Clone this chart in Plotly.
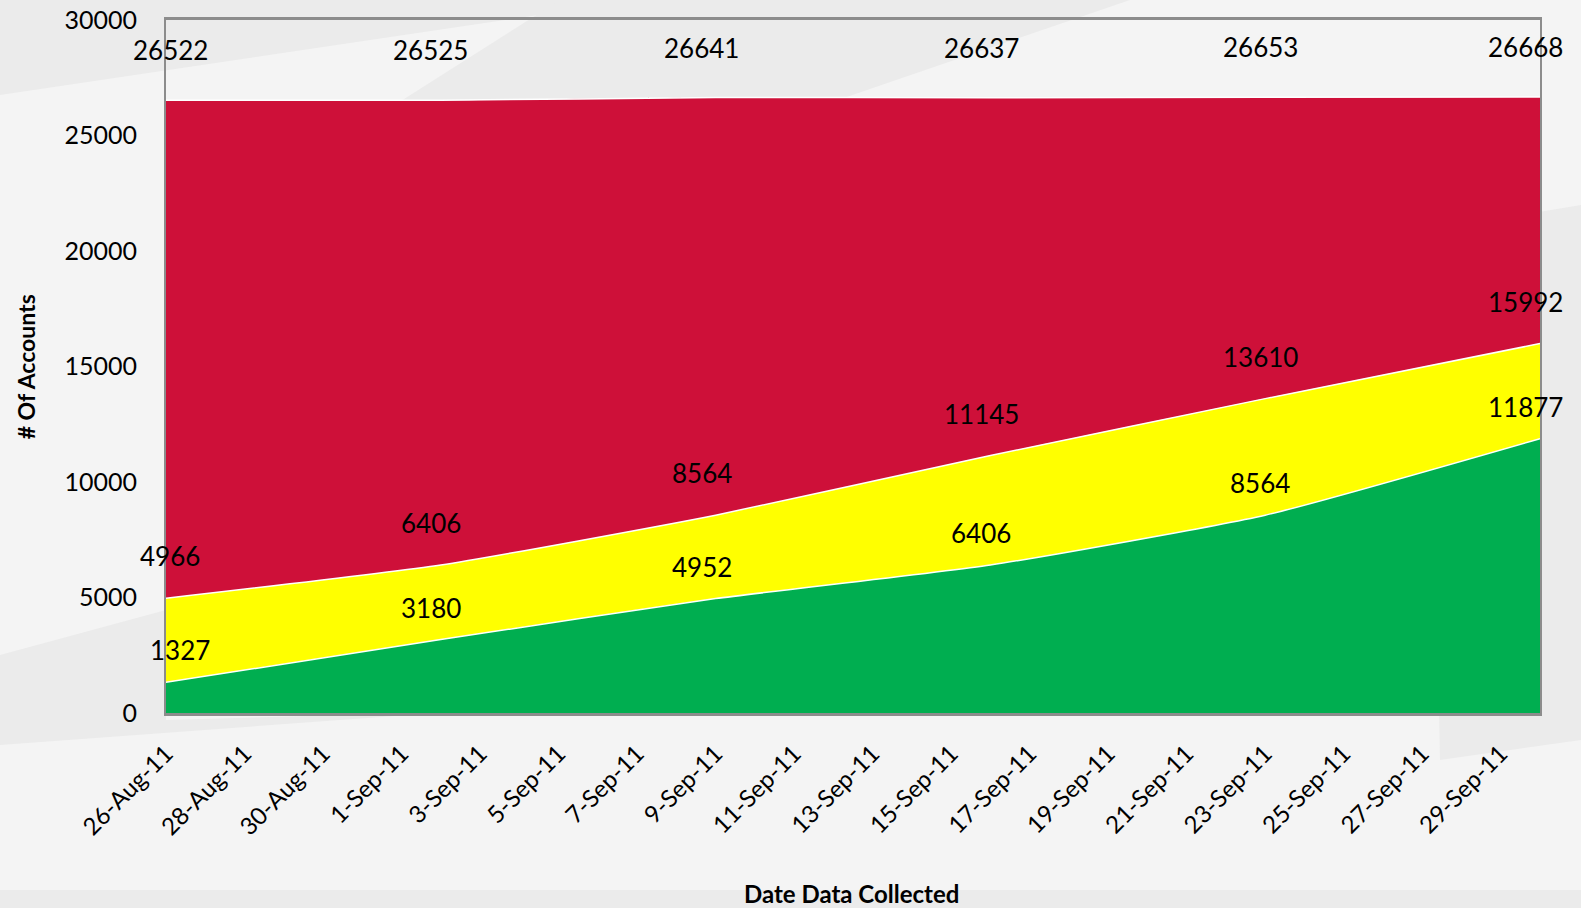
import plotly.graph_objects as go

dates = ["2011-08-26", "2011-09-02", "2011-09-09", "2011-09-16", "2011-09-23", "2011-09-30"]
total_accounts = [26522, 26525, 26641, 26637, 26653, 26668]
yellow_cum = [4966, 6406, 8564, 11145, 13610, 15992]
green_cum = [1327, 3180, 4952, 6406, 8564, 11877]

FONT = "Lato"
RED = "#CE1039"
YELLOW = "#FFFF00"
GREEN = "#00AE50"

fig = go.Figure()
for vals, col in [(total_accounts, RED), (yellow_cum, YELLOW), (green_cum, GREEN)]:
    fig.add_trace(go.Scatter(
        x=dates, y=vals, mode="lines", fill="tozeroy",
        fillcolor=col, line=dict(color="white", width=1.5, shape="spline", smoothing=0.5),
        hoverinfo="x+y", showlegend=False))

# data labels
label_shift = {0: 50, 1: 42, 2: 32}
xshifts = [4, -10, -14, -9, -5, -15]
for si, vals in enumerate([total_accounts, yellow_cum, green_cum]):
    for i, (d, v) in enumerate(zip(dates, vals)):
        fig.add_annotation(x=d, y=v, text=str(v), showarrow=False,
                           yshift=label_shift[si], xshift=xshifts[i] + (10 if (si == 2 and i == 0) else 0),
                           font=dict(family=FONT, size=26, color="black"))

# axis titles
fig.add_annotation(text="<b># Of Accounts</b>", xref="paper", yref="paper",
                   x=-0.102, y=0.5, xanchor="center", yanchor="middle",
                   textangle=-90, showarrow=False,
                   font=dict(family=FONT, size=23, color="black"))
fig.add_annotation(text="<b>Date Data Collected</b>", xref="paper", yref="paper",
                   x=0.499, y=-0.26, xanchor="center", yanchor="middle", showarrow=False,
                   font=dict(family=FONT, size=24, color="black"))

# subtle slide background bands
def px(xp, yp):
    return (xp - 166) / 1374, (713 - yp) / 693

bands = [
    [(0, 95), (0, 0), (640, 0)],
    [(560, 0), (1130, 0), (166, 330), (166, 250)],
    [(0, 655), (166, 610), (166, 720), (450, 712), (0, 745)],
    [(1430, 230), (1581, 205), (1581, 740), (1440, 760)],
    [(0, 890), (1581, 890), (1581, 908), (0, 908)],
]
for poly in bands:
    pts = [px(a, b) for a, b in poly]
    path = "M " + " L ".join(f"{a},{b}" for a, b in pts) + " Z"
    fig.add_shape(type="path", path=path, xref="paper", yref="paper",
                  fillcolor="#EBEBEB", line=dict(width=0), layer="below")

fig.update_layout(
    width=1581, height=908,
    margin=dict(l=166, r=41, t=20, b=195, autoexpand=False),
    paper_bgcolor="#F4F4F4", plot_bgcolor="rgba(0,0,0,0)",
    font=dict(family=FONT, size=24, color="black"),
)
fig.update_xaxes(
    type="date", range=["2011-08-26", "2011-09-30"],
    tick0="2011-08-26", dtick=2 * 86400000, tickformat="%-d-%b-%y",
    tickangle=-45, tickfont=dict(family=FONT, size=24), ticklabelstandoff=14,
    showgrid=False, zeroline=False, showline=True, linecolor="#8C8C8C", linewidth=3, mirror=True,
    ticks="", automargin=False,
)
fig.update_yaxes(
    range=[0, 30000], dtick=5000, tickformat="d",
    tickfont=dict(family=FONT, size=25), ticklabelstandoff=22,
    showgrid=False, zeroline=False, showline=True, linecolor="#8C8C8C", linewidth=2, mirror=True,
    ticks="", automargin=False,
)

fig.write_html("out.html", config={"displayModeBar": False},
               post_script="document.body.style.margin='0';document.body.style.overflow='hidden';")
